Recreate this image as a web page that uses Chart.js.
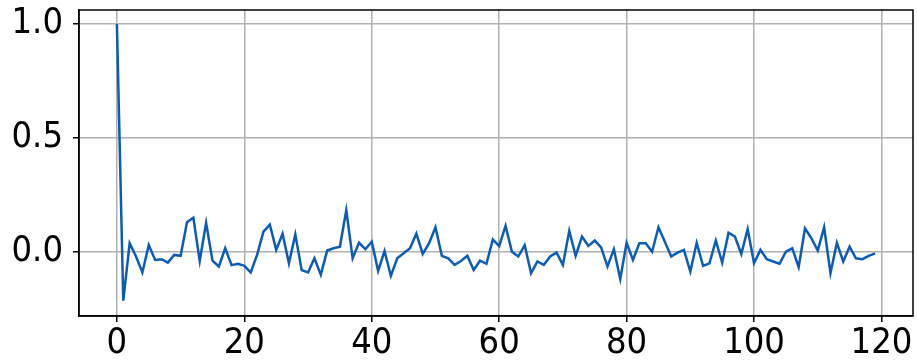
<!DOCTYPE html>
<html>
<head>
<meta charset="utf-8">
<script src="https://cdn.jsdelivr.net/npm/chart.js@4/dist/chart.umd.min.js"></script>
<style>
  html, body { margin: 0; padding: 0; background: #fff; }
  #wrap { width: 917px; height: 360px; }
</style>
</head>
<body>
<div id="wrap"><canvas id="acf"></canvas></div>
<script>
// autocorrelation values for lags 0..119
const lags = Array.from({ length: 120 }, (_, i) => i);
const acfValues = [
  1.0, -0.214, 0.038, -0.02, -0.09, 0.03, -0.035, -0.032, -0.047, -0.013,
  -0.017, 0.13, 0.15, -0.04, 0.128, -0.038, -0.064, 0.016, -0.058, -0.052,
  -0.061, -0.09, -0.013, 0.089, 0.12, 0.009, 0.08, -0.05, 0.077, -0.08,
  -0.09, -0.028, -0.1, 0.006, 0.016, 0.023, 0.183, -0.028, 0.04, 0.012,
  0.045, -0.083, 0.004, -0.105, -0.028, -0.006, 0.016, 0.08, -0.009, 0.038,
  0.108, -0.017, -0.028, -0.057, -0.04, -0.017, -0.079, -0.038, -0.052, 0.055,
  0.026, 0.114, 0.001, -0.02, 0.03, -0.093, -0.042, -0.057, -0.02, -0.003,
  -0.057, 0.093, -0.017, 0.067, 0.026, 0.05, 0.02, -0.064, 0.012, -0.119,
  0.04, -0.035, 0.038, 0.038, 0.001, 0.108, 0.045, -0.02, -0.003, 0.009,
  -0.086, 0.04, -0.061, -0.05, 0.05, -0.047, 0.084, 0.067, -0.009, 0.1,
  -0.05, 0.009, -0.032, -0.042, -0.052, 0.001, 0.016, -0.067, 0.103, 0.06,
  0.006, 0.108, -0.093, 0.04, -0.042, 0.023, -0.028, -0.032, -0.017, -0.006
];
const xTicks = [0, 20, 40, 60, 80, 100, 120];
const yTicks = [0.0, 0.5, 1.0];

// draw the full box around the plot area, like matplotlib
const frame = {
  id: "frame",
  afterDraw(chart) {
    const a = chart.chartArea;
    const ctx = chart.ctx;
    ctx.save();
    ctx.strokeStyle = "#000";
    ctx.lineWidth = 1.5;
    ctx.strokeRect(a.left, a.top, a.right - a.left, a.bottom - a.top);
    ctx.restore();
  },
};

const tickFont = { family: "'DejaVu Sans Condensed', 'DejaVu Sans'", size: 36 };

new Chart(document.getElementById("acf"), {
  type: "line",
  data: {
    datasets: [
      {
        data: lags.map((l, i) => ({ x: l, y: acfValues[i] })),
        borderColor: "#0b5cb5",
        borderWidth: 2.5,
        pointRadius: 0,
        tension: 0,
        fill: false,
      },
    ],
  },
  options: {
    responsive: true,
    maintainAspectRatio: false,
    animation: false,
    layout: { padding: { top: 0, right: 4, left: 0, bottom: 0 } },
    plugins: { legend: { display: false }, tooltip: { enabled: false } },
    scales: {
      x: {
        type: "linear",
        min: -5.95,
        max: 124.95,
        afterBuildTicks: (s) => { s.ticks = xTicks.map((v) => ({ value: v })); },
        afterFit: (s) => { s.height = 44; s.paddingLeft = 0; s.paddingRight = 0; },
        grid: { color: "#b0b0b0", lineWidth: 1.5, tickColor: "#000", tickLength: 6 },
        border: { color: "#000", width: 1.5 },
        ticks: { color: "#000", font: tickFont, padding: 0, maxRotation: 0 },
      },
      y: {
        type: "linear",
        min: -0.281,
        max: 1.061,
        afterBuildTicks: (s) => { s.ticks = yTicks.map((v) => ({ value: v })); },
        afterFit: (s) => { s.width = 79; s.paddingTop = 10; s.paddingBottom = 0; },
        grid: { color: "#b0b0b0", lineWidth: 1.5, tickColor: "#000", tickLength: 6 },
        border: { color: "#000", width: 1.5 },
        ticks: {
          color: "#000",
          font: tickFont,
          padding: 10,
          callback: (v) => v.toFixed(1),
        },
      },
    },
  },
  plugins: [frame],
});
</script>
</body>
</html>
